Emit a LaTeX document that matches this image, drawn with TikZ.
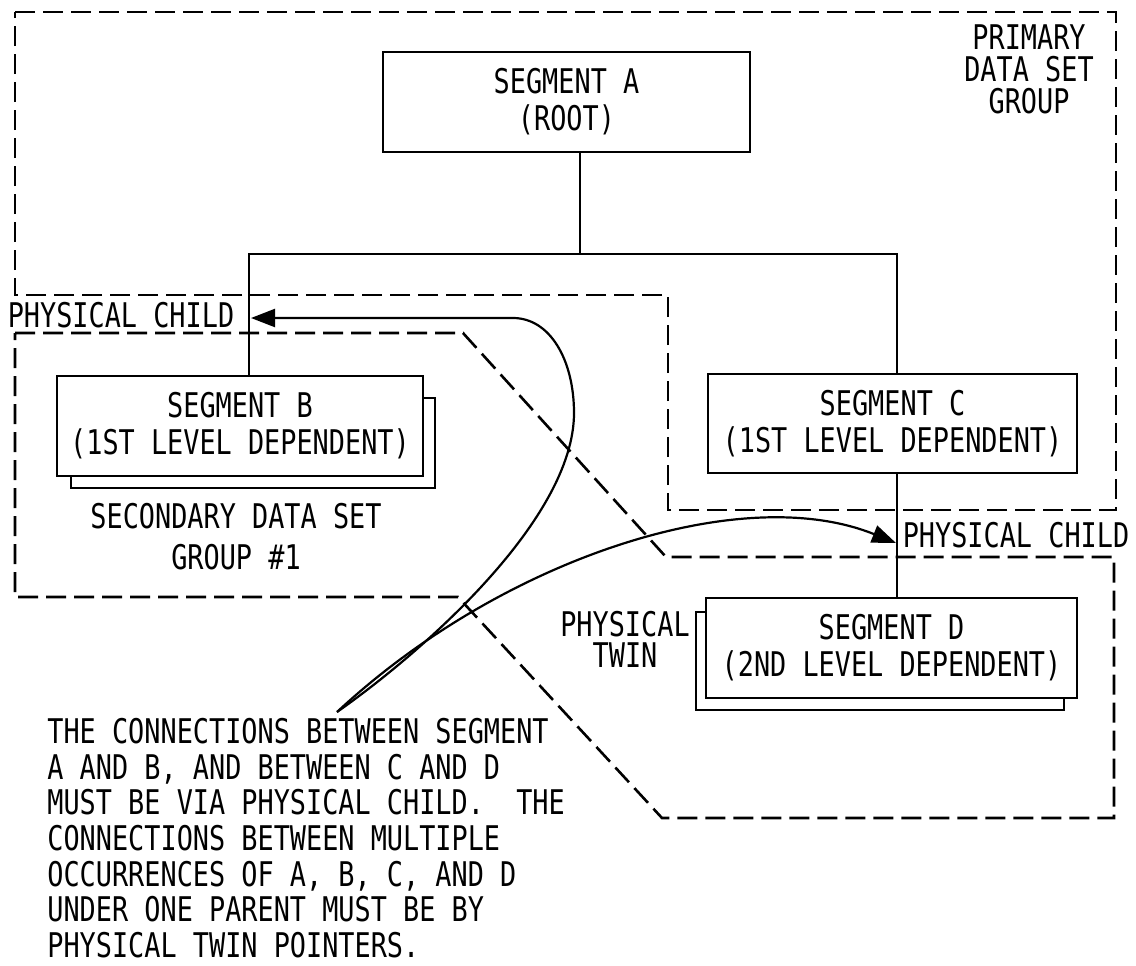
\documentclass[tikz,border=0pt]{standalone}
\usepackage{fontspec}
\setmainfont[FakeStretch=0.79]{DejaVu Sans Mono}
\usetikzlibrary{arrows.meta}
\newcommand{\txtfont}{\fontsize{17pt}{18.5pt}\selectfont}
\begin{document}
\begin{tikzpicture}[x=0.5pt,y=-0.5pt,
  seg/.style={draw, line width=1.2pt, inner sep=0pt, align=center, font=\txtfont},
  grp/.style={line width=1.3pt, dash pattern=on 10pt off 4pt},
  conn/.style={line width=1pt},
  shad/.style={line width=1pt},
  lbl/.style={inner sep=0pt, align=center, font=\txtfont},
  ptr/.style={line width=1.1pt, -{Triangle[length=12pt,width=9pt]}}]
\useasboundingbox (0,0) rectangle (1136,965);

% dashed group outlines
\draw[grp] (15,12) -- (1116,12) -- (1116,510) -- (668,510) -- (668,295) -- (15,295) -- cycle;
\draw[grp] (15,333) -- (463,333) -- (666,557) -- (1114,557) -- (1114,818) -- (662,818) -- (458,597) -- (15,597) -- cycle;

% segment boxes
\node[seg, minimum width=183.5pt, minimum height=50pt] (A) at (566.5,102) {SEGMENT A\\(ROOT)};
\node[seg, minimum width=183pt, minimum height=50pt] (B) at (240,426) {SEGMENT B\\(1ST LEVEL DEPENDENT)};
\node[seg, minimum width=184.5pt, minimum height=49.5pt] (C) at (892.5,423.5) {SEGMENT C\\(1ST LEVEL DEPENDENT)};
\node[seg, minimum width=185.5pt, minimum height=50pt] (D) at (891.5,648) {SEGMENT D\\(2ND LEVEL DEPENDENT)};

% twin shadows
\draw[shad] (B.east |- 0,398) -- (435,398) -- (435,488) -- (71,488) -- (71,0 |- B.south);
\draw[shad] (D.west |- 0,612) -- (696,612) -- (696,710) -- (1064,710) -- (1064,0 |- D.south);

% hierarchy connectors
\coordinate (j) at (580,254);
\coordinate (bl) at (249,254);
\coordinate (br) at (897,254);
\draw[conn] (A.south -| j) -- (j);
\draw[conn] (B.north -| bl) -- (bl) -- (br) -- (C.north -| br);
\draw[conn] (C.south -| br) -- (D.north -| br);

% labels
\node[lbl, font=\fontsize{17pt}{16pt}\selectfont] (prim) at (1029,69) {PRIMARY\\DATA SET\\GROUP};
\node[lbl] (pcl) at (121,315) {PHYSICAL CHILD};
\node[lbl] (pcr) at (1016,535) {PHYSICAL CHILD};
\node[lbl, font=\fontsize{17pt}{20.5pt}\selectfont] (sec) at (236,537) {SECONDARY DATA SET\\GROUP \#1};
\node[lbl, font=\fontsize{17pt}{15.5pt}\selectfont] (twin) at (625,639) {PHYSICAL\\TWIN};
\node[lbl, align=left, anchor=north west, font=\fontsize{17pt}{17.8pt}\selectfont] (note) at (47,718)
 {THE CONNECTIONS BETWEEN SEGMENT\\A AND B, AND BETWEEN C AND D\\MUST BE VIA PHYSICAL CHILD.\ \ THE\\CONNECTIONS BETWEEN MULTIPLE\\OCCURRENCES OF A, B, C, AND D\\UNDER ONE PARENT MUST BE BY\\PHYSICAL TWIN POINTERS.};

% pointer curves
\coordinate (s) at (337,712);
\coordinate (pB) at (251,318);
\coordinate (pC) at (896,543);
\draw[ptr] (s) .. controls (420,654) and (574,520) .. (574,413) .. controls (574,360) and (550,318) .. (513,318) -- (pB);
\draw[ptr] (s) .. controls (500,560) and (740,480) .. (pC);
\end{tikzpicture}
\end{document}
